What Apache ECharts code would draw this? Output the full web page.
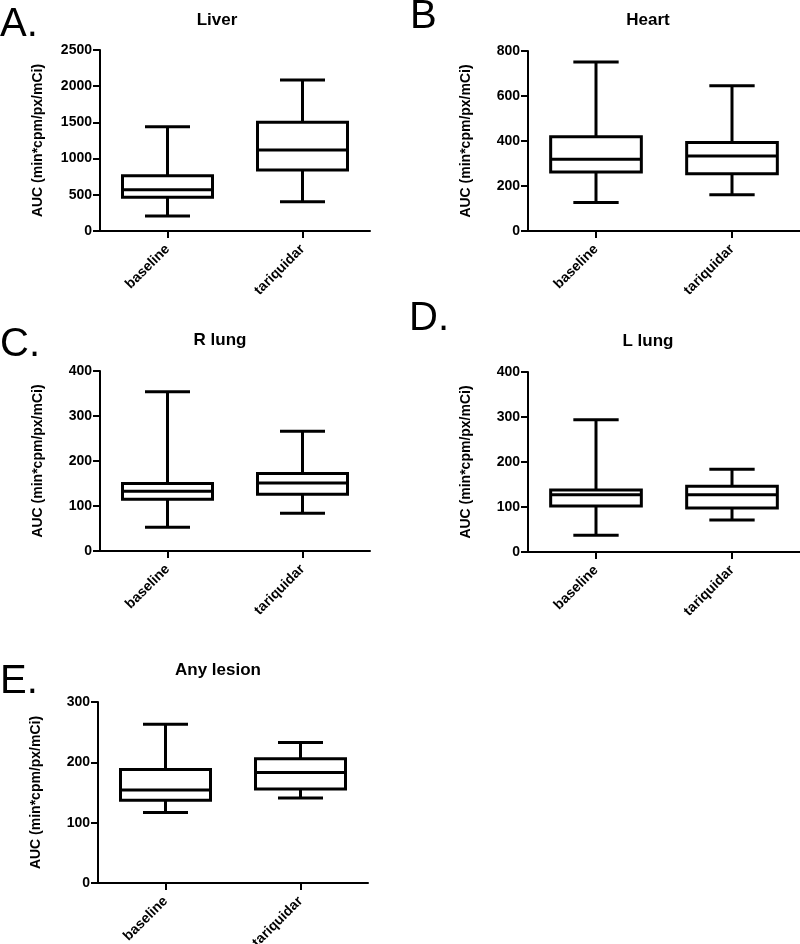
<!DOCTYPE html>
<html>
<head>
<meta charset="utf-8">
<script src="https://cdn.jsdelivr.net/npm/echarts@6/dist/echarts.min.js"></script>
<style>
html,body{margin:0;padding:0;background:#fff;}
#chart{width:800px;height:944px;}
</style>
</head>
<body>
<div id="chart"></div>
<script>
// Categories
const categories = ['baseline', 'tariquidar'];
// Five-number summaries: [min, Q1, median, Q3, max]
const liverBaseline = [207, 465, 570, 764, 1440];
const liverTariquidar = [405, 842, 1119, 1501, 2086];
const heartBaseline = [127, 262, 319, 419, 751];
const heartTariquidar = [161, 254, 333, 393, 646];
const rLungBaseline = [53, 115, 133, 150, 354];
const rLungTariquidar = [84, 126, 151, 172, 266];
const lLungBaseline = [37, 102, 127, 138, 294];
const lLungTariquidar = [71, 98, 127, 146, 184];
const lesionBaseline = [117, 137, 154, 188, 263];
const lesionTariquidar = [141, 156, 183, 206, 233];
// Panel titles and letters
const panelTitles = ['Liver', 'Heart', 'R lung', 'L lung', 'Any lesion'];
const panelLetters = ['A.', 'B', 'C.', 'D.', 'E.'];
// Y-axis ranges [max, interval]
const yMax = [2500, 800, 400, 400, 300];
const yInterval = [500, 200, 100, 100, 100];
const yAxisName = 'AUC (min*cpm/px/mCi)';

const panelData = [
  [liverBaseline, liverTariquidar],
  [heartBaseline, heartTariquidar],
  [rLungBaseline, rLungTariquidar],
  [lLungBaseline, lLungTariquidar],
  [lesionBaseline, lesionTariquidar]
];

const FONT = '"Liberation Sans", Arial, Helvetica, sans-serif';

const grids = [
  {left: 100, top: 50, width: 270, height: 181},
  {left: 528, top: 51, width: 272, height: 180},
  {left: 100, top: 371, width: 270, height: 180},
  {left: 528, top: 372, width: 272, height: 180},
  {left: 98, top: 702, width: 270, height: 181}
];
const titlePos = [
  {x: 217, y: 12}, {x: 648, y: 12}, {x: 220, y: 332}, {x: 648, y: 333}, {x: 218, y: 662}
];
const letterPos = [
  {x: 0, y: 5}, {x: 410, y: -3}, {x: 0, y: 325}, {x: 409, y: 299}, {x: 0, y: 662}
];

function renderBox(params, api) {
  const ci = api.value(0);
  const mn = api.value(1), q1 = api.value(2), md = api.value(3), q3 = api.value(4), mx = api.value(5);
  const band = api.size([1, 0])[0];
  const boxW = band * 2 / 3;
  const capW = band / 3;
  const pMin = api.coord([ci, mn]);
  const pQ1 = api.coord([ci, q1]);
  const pMd = api.coord([ci, md]);
  const pQ3 = api.coord([ci, q3]);
  const pMax = api.coord([ci, mx]);
  const cx = pMd[0];
  const style = {stroke: '#000', lineWidth: 3, fill: null};
  return {
    type: 'group',
    children: [
      {type: 'line', shape: {x1: cx, y1: pQ3[1], x2: cx, y2: pMax[1]}, style: style},
      {type: 'line', shape: {x1: cx, y1: pQ1[1], x2: cx, y2: pMin[1]}, style: style},
      {type: 'line', shape: {x1: cx - capW / 2, y1: pMax[1], x2: cx + capW / 2, y2: pMax[1]}, style: style},
      {type: 'line', shape: {x1: cx - capW / 2, y1: pMin[1], x2: cx + capW / 2, y2: pMin[1]}, style: style},
      {type: 'rect', shape: {x: cx - boxW / 2, y: pQ3[1], width: boxW, height: pQ1[1] - pQ3[1]}, style: {stroke: '#000', lineWidth: 3, fill: '#fff'}},
      {type: 'line', shape: {x1: cx - boxW / 2, y1: pMd[1], x2: cx + boxW / 2, y2: pMd[1]}, style: style}
    ]
  };
}

const option = {
  animation: false,
  backgroundColor: '#fff',
  title: [],
  grid: [],
  xAxis: [],
  yAxis: [],
  series: []
};

for (let i = 0; i < 5; i++) {
  option.grid.push(Object.assign({containLabel: false, outerBoundsMode: 'none'}, grids[i]));
  option.title.push({
    text: panelTitles[i], left: titlePos[i].x, top: titlePos[i].y, textAlign: 'center', padding: 0,
    textStyle: {fontFamily: FONT, fontSize: 17, fontWeight: 'bold', color: '#000'}
  });
  option.title.push({
    text: panelLetters[i], left: letterPos[i].x, top: letterPos[i].y, padding: 0,
    textStyle: {fontFamily: FONT, fontSize: 40, fontWeight: 'normal', color: '#000'}
  });
  option.xAxis.push({
    type: 'category', gridIndex: i, data: categories, boundaryGap: true,
    axisLine: {show: true, lineStyle: {color: '#000', width: 2}},
    axisTick: {show: true, alignWithLabel: true, length: 7, lineStyle: {color: '#000', width: 2}},
    axisLabel: {rotate: 45, interval: 0, margin: 16, color: '#000', fontFamily: FONT, fontSize: 14, fontWeight: 'bold'},
    splitLine: {show: false}
  });
  option.yAxis.push({
    type: 'value', gridIndex: i, min: 0, max: yMax[i], interval: yInterval[i],
    name: yAxisName, nameLocation: 'middle', nameGap: 55, nameRotate: 90,
    nameTextStyle: {fontFamily: FONT, fontSize: 14, fontWeight: 'bold', color: '#000'},
    axisLine: {show: true, lineStyle: {color: '#000', width: 2}},
    axisTick: {show: true, length: 7, lineStyle: {color: '#000', width: 2}},
    axisLabel: {margin: 8, color: '#000', fontFamily: FONT, fontSize: 14, fontWeight: 'bold',
      formatter: function (v) { return String(v); }},
    splitLine: {show: false}
  });
  const rows = panelData[i].map((d, k) => [k].concat(d));
  option.series.push({
    type: 'custom', xAxisIndex: i, yAxisIndex: i,
    renderItem: renderBox,
    encode: {x: 0, y: [1, 2, 3, 4, 5]},
    data: rows,
    z: 1
  });
}

const chart = echarts.init(document.getElementById('chart'), null, {renderer: 'canvas'});
chart.setOption(option);
</script>
</body>
</html>
